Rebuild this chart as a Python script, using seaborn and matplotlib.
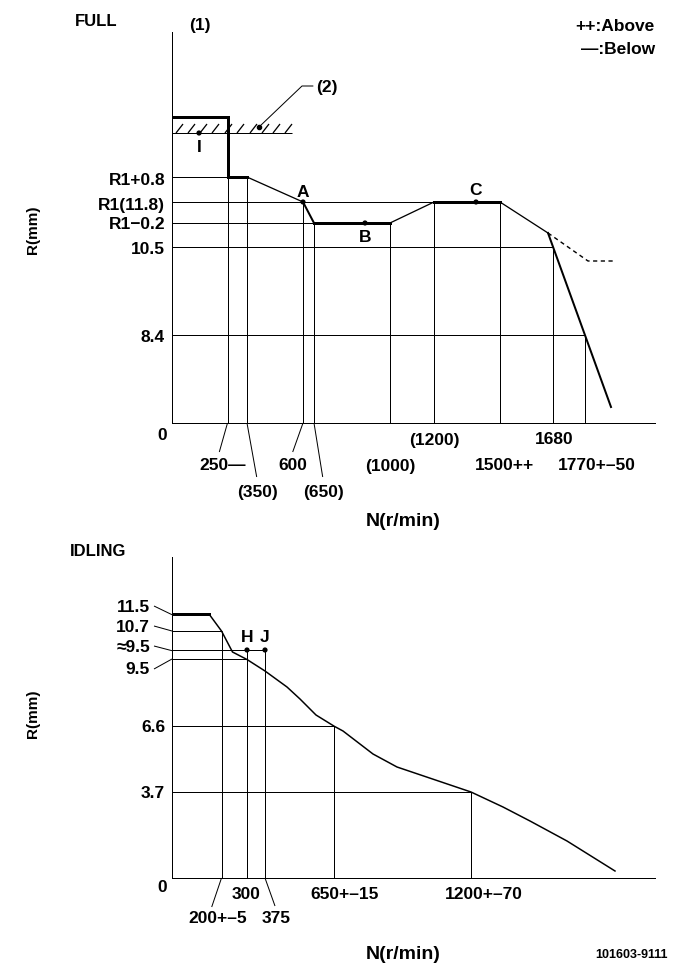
import numpy as np
import pandas as pd
import matplotlib
matplotlib.use("Agg")
import matplotlib.pyplot as plt
import seaborn as sns
from matplotlib import font_manager

# Schematic governor diagram: units are diagram units measured from the axes origin
# (x to the right of the R axis, y up from the N axis), 1 unit ~ 1 px

# ---- FULL chart data ----
full_curve_n = [0, 55.5, 55.5, 75, 131, 142, 218, 262, 328, 376, 439]
full_curve_r = [306, 306, 246, 246, 221, 200, 200, 221, 221, 190, 16]
full_dash_n = [376, 416, 441]
full_dash_r = [190, 162, 162]

full_n_lines = [55.5, 75, 131, 142, 218, 262, 328, 381, 413]
full_n_tops = [246, 246, 221, 200, 200, 221, 221, 176, 88]
full_r_levels = [246, 221, 200, 176, 88]
full_r_ends = [55.5, 262, 142, 381, 413]
full_r_labels = ["R1+0.8", "R1(11.8)", "R1−0.2", "10.5", "8.4"]
full_n_labels = ["250—", "(350)", "600", "(650)", "(1000)", "(1200)", "1500++", "1680", "1770+–50"]

full_pts = ["I", "A", "B", "C"]
full_pts_n = [27, 131, 193, 304]
full_pts_r = [290, 221, 200, 221]

stop_level = 290
stop_end = 120
hatch_x = [4, 16, 28, 40, 53, 65, 78, 90, 101, 113]

# ---- IDLING chart data ----
idle_curve_n = [0, 37, 49.5, 60.5, 75, 93, 115, 128, 144, 162.3, 171, 201, 225, 299, 331, 358, 395, 443]
idle_curve_r = [264, 264, 247, 226, 218.5, 207, 191, 179, 163, 151.7, 147, 124, 111, 86, 71, 57, 37, 7]

idle_n_lines = [49.5, 75, 93, 162.3, 299]
idle_n_tops = [247, 228, 228, 151.7, 86]
idle_r_levels = [247, 228, 218.7, 151.7, 86]
idle_r_ends = [49.5, 93, 75, 162.3, 299]
idle_r_labels = ["11.5", "10.7", "≈9.5", "9.5"]
idle_r_labels2 = ["6.6", "3.7"]
idle_n_labels = ["200+–5", "300", "375", "650+–15", "1200+–70"]

idle_pts = ["H", "J"]
idle_pts_n = [75, 93]
idle_pts_r = [228, 228]

PX = 0.72  # points per pixel at 100 dpi

sns.set_theme(style="white")
names = {f.name for f in font_manager.fontManager.ttflist}
main_font = "Liberation Sans" if "Liberation Sans" in names else "DejaVu Sans"
plt.rcParams["font.family"] = [main_font, "DejaVu Sans"]
plt.rcParams["font.weight"] = "bold"
plt.rcParams["text.color"] = "black"

FS = 12.5

fig = plt.figure(figsize=(6.81, 9.79), dpi=100)
fig.patch.set_facecolor("white")
ax1 = fig.add_axes([172 / 681, 555 / 979, 483 / 681, 391 / 979])
ax2 = fig.add_axes([172 / 681, 100 / 979, 483 / 681, 321 / 979])

for ax, top in [(ax1, 391), (ax2, 321)]:
    ax.set_xlim(0, 483)
    ax.set_ylim(0, top)
    ax.set_xticks([])
    ax.set_yticks([])
    ax.set_facecolor("white")
    sns.despine(ax=ax)
    for s in ["left", "bottom"]:
        ax.spines[s].set_color("black")
        ax.spines[s].set_linewidth(1 * PX)


def seg(ax, xs, ys, w, **kw):
    sns.lineplot(x=xs, y=ys, ax=ax, color="black", linewidth=w * PX, sort=False,
                 estimator=None, legend=False, solid_capstyle="projecting",
                 solid_joinstyle="miter", **kw)


def thin(ax, xs, ys, w=1.0):
    ax.plot(xs, ys, color="black", linewidth=w * PX, clip_on=False, solid_capstyle="butt")


# ---- FULL ----
for x, t in zip(full_n_lines, full_n_tops):
    thin(ax1, [x, x], [0, t])
for y, e in zip(full_r_levels, full_r_ends):
    thin(ax1, [0, e], [y, y])

# stopper line with hatching
thin(ax1, [0, stop_end], [stop_level, stop_level])
for hx in hatch_x:
    thin(ax1, [hx, hx + 7], [stop_level, stop_level + 9], w=1.3)

widths = [3, 3, 3, 1.3, 2, 3, 1.3, 3, 1.3, 2]
seg(ax1, full_curve_n[0:4], full_curve_r[0:4], 3)
for i in range(3, len(full_curve_n) - 1):
    seg(ax1, full_curve_n[i:i + 2], full_curve_r[i:i + 2], widths[i])
ax1.plot(full_dash_n, full_dash_r, color="black", linewidth=1.4 * PX,
         linestyle=(0, (3, 2.5)))

sns.scatterplot(x=full_pts_n, y=full_pts_r, ax=ax1, color="black", s=14,
                edgecolor="none", legend=False, zorder=5)
pt_off = {"I": (0, -13), "A": (0, 11), "B": (0, -14), "C": (0, 13)}
for p, x, y in zip(full_pts, full_pts_n, full_pts_r):
    dx, dy = pt_off[p]
    ax1.text(x + dx, y + dy, p, ha="center", va="center", fontsize=FS)

# leader for (2)
ax1.plot([87, 130, 141], [296, 337, 337], color="black", linewidth=1 * PX)
ax1.plot([87], [296], marker="o", color="black", markersize=3)
ax1.text(155, 337, "(2)", ha="center", va="center", fontsize=FS)

# R labels
r_lab_y = [244, 219, 200, 175, 87]
for lab, y in zip(full_r_labels, r_lab_y):
    ax1.text(-7, y, lab, ha="right", va="center", fontsize=FS)
ax1.text(-10, -11, "0", ha="center", va="center", fontsize=FS)

# N labels
n_lab_x = [50.5, 85, 120.5, 151, 218, 262, 332.5, 382, 425]
n_lab_y = [-42, -68, -42, -68, -42, -16, -42, -16, -42]
for lab, x, y in zip(full_n_labels, n_lab_x, n_lab_y):
    ax1.text(x, y, lab, ha="center", va="center", fontsize=FS)
for (x0, x1, y1) in [(55.5, 47.3, -29), (75, 84.7, -54), (131, 120.7, -29), (142, 150.7, -54)]:
    thin(ax1, [x0, x1], [0, y1])

ax1.text(-139, 194, "R(mm)", rotation=90, ha="center", va="center", fontsize=11)
ax1.text(231, -98, "N(r/min)", ha="center", va="center", fontsize=14)
ax1.text(-75.5, 403, "FULL", ha="center", va="center", fontsize=12)
ax1.text(28, 399, "(1)", ha="center", va="center", fontsize=FS)
ax1.text(483, 397.5, "++:Above", ha="right", va="center", fontsize=FS)
ax1.text(483, 375, "—:Below", ha="right", va="center", fontsize=FS)

# ---- IDLING ----
for x, t in zip(idle_n_lines, idle_n_tops):
    thin(ax2, [x, x], [0, t])
for y, e in zip(idle_r_levels, idle_r_ends):
    thin(ax2, [0, e], [y, y])

seg(ax2, idle_curve_n[0:2], idle_curve_r[0:2], 3)
seg(ax2, idle_curve_n[1:], idle_curve_r[1:], 1.5)

sns.scatterplot(x=idle_pts_n, y=idle_pts_r, ax=ax2, color="black", s=14,
                edgecolor="none", legend=False, zorder=5)
for p, x, y in zip(idle_pts, idle_pts_n, idle_pts_r):
    ax2.text(x, y + 14, p, ha="center", va="center", fontsize=FS)

idle_lab_y = [272, 252, 232, 209]
idle_lead_end = [263.3, 247, 227.3, 219]
for lab, y, ye in zip(idle_r_labels, idle_lab_y, idle_lead_end):
    ax2.text(-22, y, lab, ha="right", va="center", fontsize=FS)
    thin(ax2, [-18, 0], [y, ye])
for lab, y in zip(idle_r_labels2, [151.5, 85]):
    ax2.text(-7, y, lab, ha="right", va="center", fontsize=FS)
ax2.text(-10, -9, "0", ha="center", va="center", fontsize=FS)

i_lab_x = [46, 74, 104, 172.7, 311.5]
i_lab_y = [-40, -16, -40, -16, -16]
for lab, x, y in zip(idle_n_labels, i_lab_x, i_lab_y):
    ax2.text(x, y, lab, ha="center", va="center", fontsize=FS)
thin(ax2, [49.5, 39.7], [0, -29])
thin(ax2, [93, 103], [0, -28])

ax2.text(-139, 165, "R(mm)", rotation=90, ha="center", va="center", fontsize=11)
ax2.text(231, -76, "N(r/min)", ha="center", va="center", fontsize=14)
ax2.text(-73.5, 328, "IDLING", ha="center", va="center", fontsize=12)
ax2.text(496, -76, "101603-9111", ha="right", va="center", fontsize=9)

fig.savefig("out.png", dpi=100, facecolor="white")
